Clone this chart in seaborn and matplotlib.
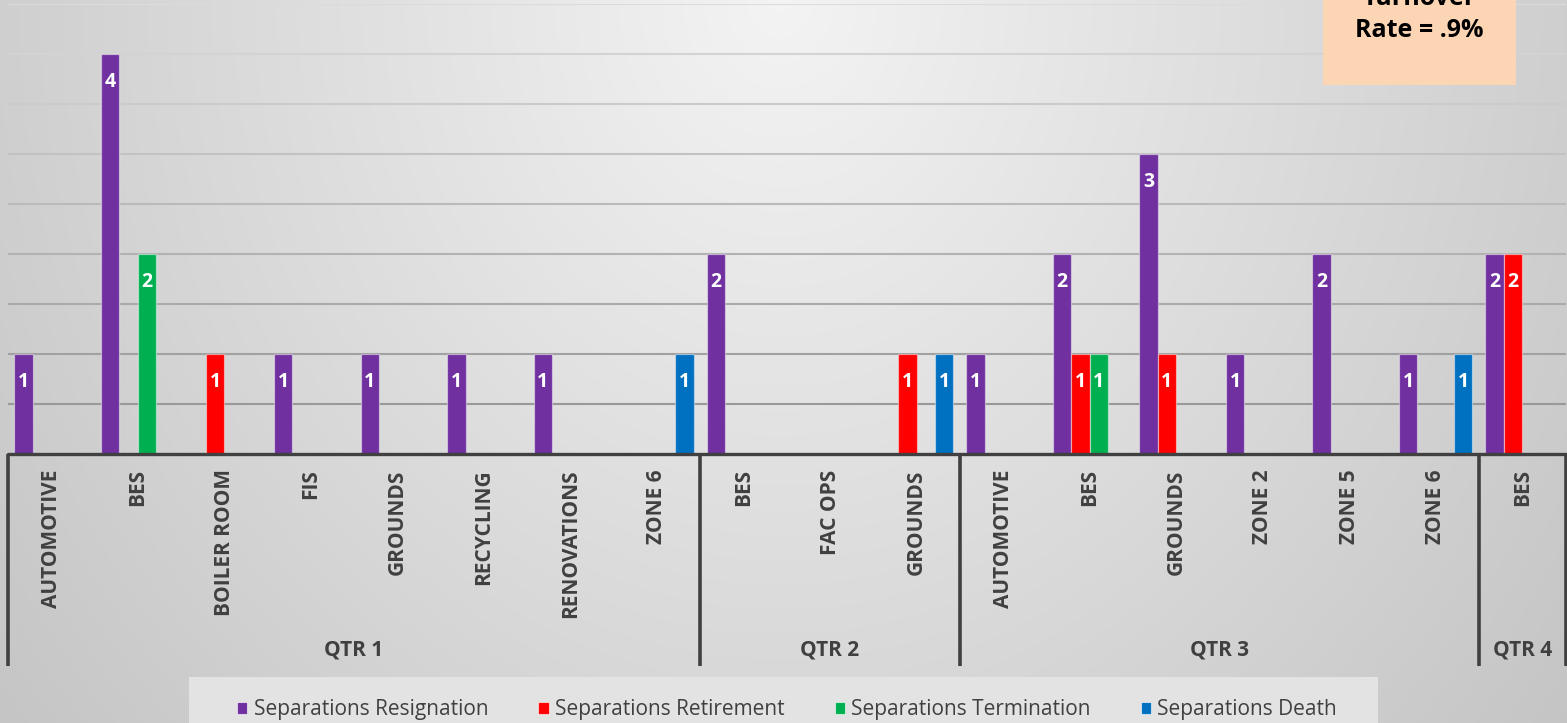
import numpy as np
import pandas as pd
import matplotlib
matplotlib.use("Agg")
import matplotlib.pyplot as plt
from matplotlib.patches import Rectangle, Patch
import seaborn as sns

# ---- data -------------------------------------------------------------
quarters = ["QTR 1"] * 8 + ["QTR 2"] * 3 + ["QTR 3"] * 6 + ["QTR 4"]
departments = ["AUTOMOTIVE", "BES", "BOILER ROOM", "FIS", "GROUNDS", "RECYCLING",
               "RENOVATIONS", "ZONE 6",
               "BES", "FAC OPS", "GROUNDS",
               "AUTOMOTIVE", "BES", "GROUNDS", "ZONE 2", "ZONE 5", "ZONE 6",
               "BES"]
resignation = [1, 4, 0, 1, 1, 1, 1, 0, 2, 0, 0, 1, 2, 3, 1, 2, 1, 2]
retirement  = [0, 0, 1, 0, 0, 0, 0, 0, 0, 0, 1, 0, 1, 1, 0, 0, 0, 2]
termination = [0, 2, 0, 0, 0, 0, 0, 0, 0, 0, 0, 0, 1, 0, 0, 0, 0, 0]
death       = [0, 0, 0, 0, 0, 0, 0, 1, 0, 0, 1, 0, 0, 0, 0, 0, 1, 0]
series_names = ["Separations Resignation", "Separations Retirement",
                "Separations Termination", "Separations Death"]
series_colors = ["#7030A0", "#FF0000", "#00B050", "#0070C0"]
turnover_text = ["Turnover", "Rate = .9%"]

# ---- long table for seaborn ------------------------------------------
keys = [f"{q}|{d}" for q, d in zip(quarters, departments)]
frames = []
for name, vals in zip(series_names, [resignation, retirement, termination, death]):
    frames.append(pd.DataFrame({"key": keys, "count": vals, "type": name}))
df = pd.concat(frames, ignore_index=True)
palette = dict(zip(series_names, series_colors))

W, H = 1567, 723
fig = plt.figure(figsize=(W / 100, H / 100), dpi=100)

# soft radial backdrop
bg_ax = fig.add_axes([0, 0, 1, 1], zorder=-10)
yy, xx = np.mgrid[0:H, 0:W]
d = np.sqrt(((xx - 780) / 820.0) ** 2 + (yy / 950.0) ** 2)
shade = np.clip(0.955 - 0.15 * d, 0, 1)
bg_ax.imshow(np.dstack([shade, shade, shade]), aspect="auto", extent=(0, W, H, 0))
bg_ax.set_xlim(0, W)
bg_ax.set_ylim(H, 0)
bg_ax.axis("off")

sns.set_style("white")
plt.rcParams["font.family"] = ["Open Sans", "DejaVu Sans"]

left_px, right_px, top_px, base_px = 8, 1565.5, 4, 454
ax = fig.add_axes([left_px / W, (H - base_px) / H, (right_px - left_px) / W,
                   (base_px - top_px) / H])
ax.set_facecolor("none")

# horizontal gridlines, fading toward the top
levels = np.arange(0.5, 4.51, 0.5)
greys = np.linspace(0.60, 0.86, len(levels))
for lv, g in zip(levels, greys):
    ax.axhline(lv, color=(g, g, g), lw=1.5, zorder=0)

sns.barplot(data=df, x="key", y="count", hue="type", order=keys,
            hue_order=series_names, palette=palette, width=0.85,
            errorbar=None, saturation=1, edgecolor=(1, 1, 1, 0.45),
            linewidth=0.9, legend=False, ax=ax, zorder=3)

for p in ax.patches:
    h = p.get_height()
    if h > 0:
        ax.annotate(f"{h:.0f}", (p.get_x() + p.get_width() / 2, h),
                    xytext=(0, -20), textcoords="offset points",
                    ha="center", va="center", color="white",
                    fontsize=14, fontweight="bold", zorder=5)

ax.set_xlim(-0.5, len(keys) - 0.5)
ax.set_ylim(0, 4.5)
ax.set_yticks([])
ax.set_xlabel("")
ax.set_ylabel("")
ax.set_xticks(range(len(keys)))
ax.set_xticklabels(departments, rotation=90, fontsize=15, fontweight="bold",
                   color="#404040")
ax.tick_params(axis="x", length=0, pad=11)
for s in ax.spines.values():
    s.set_visible(False)

axis_col = "#404040"
ax.axhline(0, color=axis_col, lw=2.4, zorder=6, clip_on=False)

# quarter group boundaries and labels
trans = ax.get_xaxis_transform()
bottom_frac = -(666 - base_px) / (base_px - top_px)
label_frac = -(650 - base_px) / (base_px - top_px)
qnames = list(dict.fromkeys(quarters))
start = 0
bounds = [-0.5]
for q in qnames:
    n = quarters.count(q)
    end = start + n
    bounds.append(end - 0.5)
    ax.text((start + end - 1) / 2, label_frac, q, transform=trans, ha="center",
            va="center", fontsize=15, fontweight="bold", color=axis_col)
    start = end
for b in bounds:
    ax.plot([b, b], [0, bottom_frac], transform=trans, color=axis_col,
            lw=2.6, clip_on=False, solid_capstyle="butt")

# turnover note
fig.patches.append(Rectangle((1323 / W, 1 - 85 / H), 193 / W, 90 / H,
                             transform=fig.transFigure, facecolor="#FCD5B4",
                             edgecolor="none", zorder=1))
fig.text(1419 / W, 1 - 5 / H, turnover_text[0], ha="center", va="baseline",
         fontsize=18, fontweight="bold", color="black")
fig.text(1419 / W, 1 - 37 / H, turnover_text[1], ha="center", va="baseline",
         fontsize=18, fontweight="bold", color="black")

# legend strip
fig.patches.append(Rectangle((189 / W, 0), (1378 - 189) / W, (H - 677) / H,
                             transform=fig.transFigure, facecolor="#e3e3e3",
                             edgecolor="none", zorder=1))
handles = [Patch(facecolor=c, edgecolor=(1, 1, 1, 0.6), linewidth=0.8)
           for c in series_colors]
leg = fig.legend(handles, series_names, loc="center left",
                 bbox_to_anchor=(237 / W, 1 - 710 / H), ncol=4, frameon=False,
                 fontsize=15, handlelength=0.5, handleheight=0.5,
                 handletextpad=0.3, columnspacing=2.4, borderpad=0,
                 borderaxespad=0)
for t in leg.get_texts():
    t.set_color("#404040")

fig.savefig("out.png", dpi=100)
